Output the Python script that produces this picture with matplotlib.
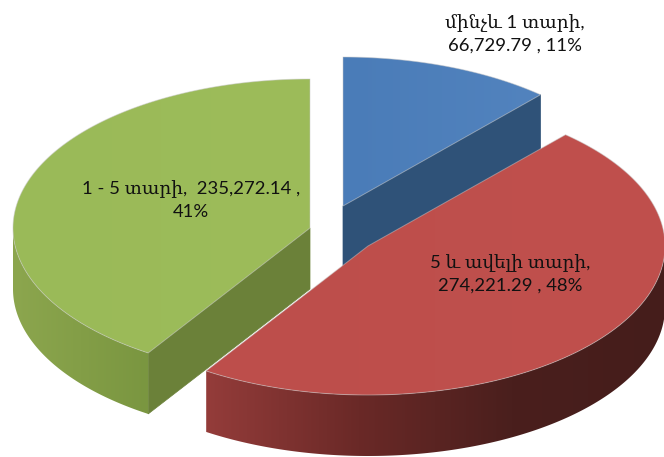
import numpy as np
import matplotlib
matplotlib.use('Agg')
import matplotlib.pyplot as plt
from matplotlib.colors import LinearSegmentedColormap
from matplotlib.patches import Polygon

plt.rcParams['font.family'] = ['Lato', 'DejaVu Serif', 'DejaVu Sans']

# slices clockwise from 12 o'clock
values = [66729.79, 274221.29, 235272.14]
labels = ['մինչև 1 տարի,\n66,729.79 , 11%',
          '5 և ավելի տարի,\n274,221.29 , 48%',
          '1 - 5 տարի,  235,272.14 ,\n41%']
top_colors = [['#4a7cb8', '#5283be'], ['#bd4e4b', '#c0504d'], ['#9aba58', '#9dbc5a']]
wall_colors = [['#2f5278', '#2f5278'], ['#943c3a', '#6a2927', '#4a1f1d', '#451d1b'], ['#8ca64e', '#7a9640']]
face_colors = ['#2f5278', '#6e2a28', '#6b8139']
centers = [(343, 206), (368, 246), (310, 228)]
label_pos = [(515, 34), (510, 274), (191, 200)]

RX, RY, DEPTH = 297, 149, 61

fig = plt.figure(figsize=(6.64, 4.57), dpi=100)
ax = fig.add_axes([0, 0, 1, 1])

def arc(center, a1, a2, drop=0):
    t = np.radians(np.linspace(a1, a2, 200))
    return np.column_stack([center[0] + RX * np.sin(t), center[1] - RY * np.cos(t) + drop])

def paint(pts, cols, z, edge=True):
    # horizontal gradient clipped to the polygon
    x0, x1 = pts[:, 0].min(), pts[:, 0].max()
    y0, y1 = pts[:, 1].min(), pts[:, 1].max()
    cmap = LinearSegmentedColormap.from_list('g', cols)
    im = ax.imshow(np.linspace(0, 1, 256).reshape(1, -1), cmap=cmap, aspect='auto',
                   extent=(x0, x1, y1, y0), zorder=z, interpolation='bilinear')
    p = Polygon(pts, closed=True, facecolor='none', edgecolor='#c9c9c9' if edge else 'none',
                lw=0.7, alpha=0.5, zorder=z + 0.1)
    ax.add_patch(p)
    im.set_clip_path(p)

angles = np.concatenate([[0], np.cumsum(values) / np.sum(values) * 360])
draw_order = [0, 2, 1]
for i in draw_order:
    a1, a2 = angles[i], angles[i + 1]
    c = np.array(centers[i], dtype=float)
    z = 10 + 10 * draw_order.index(i)
    # cut faces that look towards the viewer
    for a, show in ((a1, np.sin(np.radians(a1)) < -1e-6), (a2, np.sin(np.radians(a2)) > 1e-6)):
        if show:
            e = arc(c, a, a, 0)[0]
            face = np.array([c, e, e + [0, DEPTH], c + [0, DEPTH]])
            ax.add_patch(Polygon(face, closed=True, facecolor=face_colors[i], edgecolor=face_colors[i], lw=0.5, zorder=z))
    # outer wall, front half only
    w1, w2 = max(a1, 90), min(a2, 270)
    if w1 < w2:
        wall = np.vstack([arc(c, w1, w2), arc(c, w2, w1, DEPTH)])
        paint(wall, wall_colors[i], z + 1, edge=False)
    top = np.vstack([c, arc(c, a1, a2)])
    paint(top, top_colors[i], z + 2)

for txt, (x, y) in zip(labels, label_pos):
    ax.text(x, y, txt, ha='center', va='center', fontsize=13.3, color='#111111', linespacing=1.4, zorder=60)

ax.set_xlim(0, 664)
ax.set_ylim(457, 0)
ax.axis('off')
fig.savefig('out.png', dpi=100)
